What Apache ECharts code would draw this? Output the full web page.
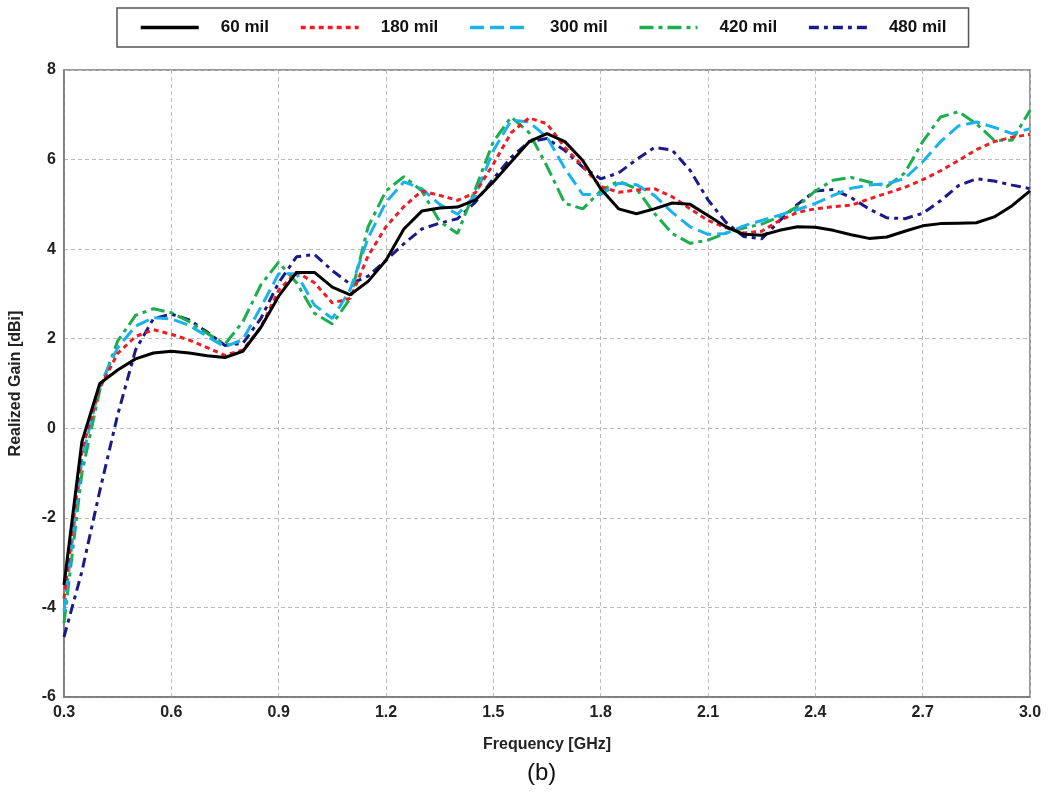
<!DOCTYPE html>
<html>
<head>
<meta charset="utf-8">
<script src="https://cdn.jsdelivr.net/npm/echarts@6/dist/echarts.min.js"></script>
<style>html,body{margin:0;padding:0;background:#fff;}#chart{width:1052px;height:794px;}</style>
</head>
<body>
<div id="chart"></div>
<script>
const freq = [0.30,0.35,0.40,0.45,0.50,0.55,0.60,0.65,0.70,0.75,0.80,0.85,0.90,0.95,1.00,1.05,1.10,1.15,1.20,1.25,1.30,1.35,1.40,1.45,1.50,1.55,1.60,1.65,1.70,1.75,1.80,1.85,1.90,1.95,2.00,2.05,2.10,2.15,2.20,2.25,2.30,2.35,2.40,2.45,2.50,2.55,2.60,2.65,2.70,2.75,2.80,2.85,2.90,2.95,3.00];
const seriesNames = ['60 mil','180 mil','300 mil','420 mil','480 mil'];
const mil60 = [-3.5,-0.3,1.0,1.3,1.55,1.68,1.72,1.68,1.62,1.58,1.72,2.25,2.95,3.48,3.48,3.15,2.98,3.28,3.75,4.45,4.85,4.92,4.94,5.1,5.5,5.95,6.4,6.58,6.4,5.98,5.35,4.9,4.79,4.9,5.03,5.0,4.75,4.5,4.33,4.31,4.42,4.5,4.49,4.42,4.32,4.24,4.27,4.4,4.52,4.57,4.58,4.59,4.72,4.97,5.3];
const mil180 = [-3.8,-0.5,0.9,1.67,2.05,2.2,2.1,1.97,1.8,1.63,1.75,2.25,3.08,3.49,3.25,2.8,2.9,3.85,4.5,4.95,5.3,5.2,5.09,5.26,5.9,6.6,6.93,6.8,6.27,5.85,5.4,5.27,5.32,5.35,5.17,4.9,4.64,4.48,4.36,4.4,4.64,4.82,4.9,4.95,4.98,5.12,5.25,5.38,5.55,5.75,5.98,6.22,6.4,6.5,6.56];
const mil300 = [-4.1,-0.7,0.95,1.8,2.28,2.47,2.44,2.3,2.05,1.82,1.98,2.7,3.45,3.45,2.75,2.45,3.1,4.25,5.05,5.5,5.35,5.0,4.78,5.2,6.2,6.88,6.84,6.5,5.8,5.22,5.22,5.47,5.44,5.2,4.82,4.5,4.33,4.35,4.52,4.64,4.76,4.88,5.02,5.2,5.36,5.43,5.46,5.58,5.95,6.4,6.75,6.84,6.72,6.58,6.69];
const mil420 = [-4.35,-1.0,0.85,1.95,2.52,2.67,2.58,2.38,2.12,1.88,2.38,3.2,3.71,3.25,2.57,2.33,2.9,4.5,5.3,5.62,5.3,4.62,4.35,5.35,6.4,6.95,6.6,5.85,5.02,4.9,5.3,5.52,5.35,4.8,4.35,4.13,4.2,4.36,4.47,4.56,4.72,4.95,5.3,5.54,5.6,5.5,5.4,5.7,6.4,6.95,7.07,6.8,6.43,6.43,7.1];
const mil480 = [-4.66,-3.2,-1.4,0.3,1.75,2.45,2.55,2.42,2.15,1.85,1.9,2.45,3.25,3.83,3.88,3.52,3.22,3.4,3.75,4.12,4.45,4.58,4.68,5.05,5.57,6.05,6.4,6.47,6.2,5.83,5.57,5.7,6.0,6.27,6.21,5.76,5.1,4.6,4.28,4.23,4.63,5.0,5.3,5.33,5.15,4.9,4.7,4.68,4.8,5.08,5.42,5.57,5.52,5.43,5.35];

const values = [mil60, mil180, mil300, mil420, mil480];
const colors = ['#000000','#ee1d23','#1ab2ec','#1aae4c','#1b1b85'];
const dashes = ['solid',[5,4],[14,6],[14,5,4,5],[10,5,4,5]];

const chart = echarts.init(document.getElementById('chart'), null, {renderer:'canvas'});
const series = seriesNames.map((n,i)=>({
  name:n, type:'line', showSymbol:false, symbol:'none', smooth:false,
  data: freq.map((f,j)=>[f, values[i][j]]),
  lineStyle:{color:colors[i], width:3, type:dashes[i]},
  itemStyle:{color:colors[i]},
  z: 10 - i
}));
const labelFont = {fontFamily:'Liberation Sans, Arial, sans-serif', fontWeight:'bold', fontSize:16, color:'#222'};
chart.setOption({
  animation:false,
  backgroundColor:'#fff',
  title:{text:'(b)', left:522, top:756, textStyle:{fontFamily:'Liberation Sans, Arial, sans-serif', fontWeight:'normal', fontSize:24, color:'#111'}},
  legend:{
    data:seriesNames, left:117, top:8,
    padding:[11,22,11,22],
    borderColor:'#555', borderWidth:1.5,
    itemWidth:58, itemHeight:14, itemGap:30,
    itemStyle:{opacity:0},
    lineStyle:{width:3.5},
    textStyle:{fontFamily:'Liberation Sans, Arial, sans-serif', fontWeight:'bold', fontSize:17, color:'#111', padding:[0,0,0,17]}
  },
  grid:{left:62, right:22, top:70, bottom:97, show:true, borderColor:'#777', borderWidth:1.5, containLabel:false},
  xAxis:{
    type:'value', min:0.3, max:3.0, interval:0.3,
    name:'Frequency [GHz]', nameLocation:'middle', nameGap:40,
    nameTextStyle:labelFont,
    axisLine:{show:true, onZero:false, lineStyle:{color:'#777', width:1.5}},
    axisTick:{show:false},
    axisLabel:Object.assign({margin:8, formatter:v=>v.toFixed(1)}, labelFont),
    splitLine:{show:true, lineStyle:{color:'#bbb', type:[4,3], width:1}}
  },
  yAxis:{
    type:'value', min:-6, max:8, interval:2,
    name:'Realized Gain [dBi]', nameLocation:'middle', nameGap:40,
    nameTextStyle:labelFont,
    axisLine:{show:true, onZero:false, lineStyle:{color:'#777', width:1.5}},
    axisTick:{show:false},
    axisLabel:Object.assign({margin:8}, labelFont),
    splitLine:{show:true, lineStyle:{color:'#bbb', type:[4,3], width:1}}
  },
  series:series
});
</script>
</body>
</html>
